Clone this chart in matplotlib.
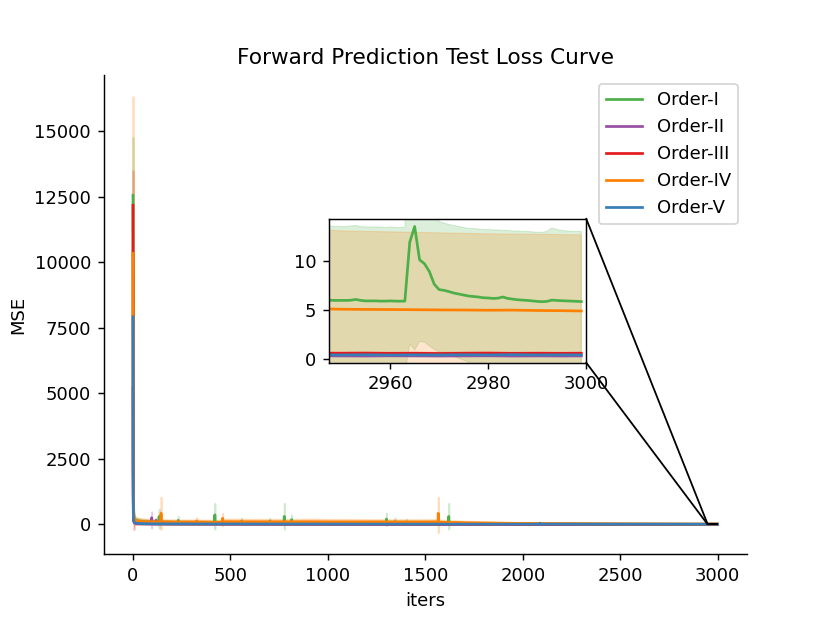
import matplotlib.pyplot as plt
from matplotlib.patches import Rectangle, ConnectionPatch

# sparse tail iterations for the flat series
tail_it = [2950, 2955, 2960, 2965, 2970, 2975, 2980, 2985, 2990, 2995, 2999]
# dense tail iterations (Order-I has a spike in the zoomed window)
dense_it = list(range(2950, 3000))

# Order-I
g_it = [0, 1, 2, 3, 5, 8, 12, 20, 40, 70, 100, 133, 134, 135, 200, 231, 232, 233, 300, 419,
        420, 421, 500, 556, 557, 558, 650, 701, 702, 703, 775, 776, 777, 813, 814, 815, 900, 1100, 1290, 1299,
        1300, 1301, 1343, 1344, 1345, 1402, 1403, 1404, 1520, 1619, 1620, 1621, 1800, 2200, 2600, 2949] + dense_it
g_mean = [12560, 2600, 950, 450, 260, 190, 160, 135, 115, 100, 90, 85, 300, 85, 75, 70, 150, 70, 65, 62,
          360, 62, 60, 58, 120, 58, 56, 55, 120, 55, 54, 300, 54, 53, 180, 53, 50, 46, 44, 45,
          200, 48, 46, 100, 46, 44, 90, 44, 40, 36, 300, 36, 28, 18, 10, 5.95,
          5.95, 5.95, 5.97, 6.05, 5.95, 5.9, 5.9, 5.9, 5.88, 5.88, 5.9, 5.88, 5.87, 5.88, 11.9, 13.5,
          10.1, 9.7, 8.9, 7.6, 7.05, 6.98, 6.85, 6.7, 6.6, 6.5, 6.4, 6.35, 6.3, 6.22, 6.2, 6.15,
          6.18, 6.3, 6.15, 6.08, 6.02, 5.98, 5.95, 5.9, 5.85, 5.82, 5.85, 5.98, 5.95, 5.92, 5.9, 5.88,
          5.86, 5.83]
g_lo = [10300, 1500, 500, 200, 100, 70, 60, 50, 40, 30, 25, 20, -150, 20, 15, 12, 0, 12, 10, 8,
        -190, 8, 8, 6, 20, 6, 5, 5, 20, 5, 5, -190, 5, 5, 0, 5, 4, 3, 3, 3,
        -60, 3, 3, 0, 3, 3, 0, 3, 2, 2, -190, 2, 0, -2, -3, -1.5,
        -1.5, -1.5, -1.45, -1.4, -1.5, -1.5, -1.5, -1.5, -1.5, -1.5, -1.5, -1.5, -1.5, -1.5, 1.5, 0.9,
        1.75, 1.7, 1.3, 0.95, 0.7, 0.5, 0.35, 0.2, 0.05, -0.15, -0.35, -0.5, -0.6, -0.7, -0.75, -0.8,
        -0.8, -0.75, -0.85, -0.9, -0.95, -1.0, -1.05, -1.1, -1.1, -1.15, -1.1, -1.2, -1.2, -1.2, -1.2, -1.25,
        -1.25, -1.3]
g_hi = [14770, 3800, 1400, 700, 420, 310, 260, 220, 190, 170, 155, 150, 580, 150, 140, 130, 300, 130, 125, 120,
        800, 120, 115, 110, 230, 110, 108, 105, 230, 105, 104, 800, 104, 102, 360, 102, 100, 95, 130, 130,
        430, 130, 130, 250, 130, 125, 200, 120, 100, 80, 800, 80, 60, 40, 25, 13.5,
        13.5, 13.5, 13.55, 13.6, 13.5, 13.45, 13.45, 13.45, 13.45, 13.4, 13.45, 13.4, 13.4, 13.4, 22.3, 26.1,
        18.5, 17.8, 16.6, 14.6, 14.0, 13.85, 13.7, 13.6, 13.5, 13.4, 13.3, 13.3, 13.25, 13.2, 13.2, 13.15,
        13.15, 13.1, 13.1, 13.05, 13.05, 13.0, 13.0, 12.95, 12.9, 12.9, 13.0, 13.35, 13.2, 13.1, 13.05, 13.0,
        13.0, 13.0]

# Order-II
p_it = [0, 1, 2, 3, 5, 8, 12, 20, 40, 70, 95, 96, 97, 117, 118, 119, 200, 400, 800, 1200, 1800, 2400, 2949] + tail_it
p_mean = [5200, 900, 300, 140, 80, 55, 40, 30, 22, 18, 16, 250, 16, 15, 150, 15, 13, 11, 9, 7, 4, 2, 0.28,
          0.28, 0.27, 0.29, 0.28, 0.27, 0.28, 0.29, 0.27, 0.28, 0.27, 0.28]
p_lo = [4000, 500, 150, 60, 30, 20, 14, 10, 7, 5, 4, -150, 4, 4, -20, 4, 3, 2, 2, 1.5, 1, 0.5, 0.24,
        0.24, 0.23, 0.25, 0.24, 0.23, 0.24, 0.25, 0.23, 0.24, 0.23, 0.24]
p_hi = [6400, 1300, 450, 220, 130, 90, 66, 50, 37, 31, 28, 480, 28, 26, 230, 26, 23, 20, 16, 12, 7, 3.5, 0.32,
        0.32, 0.31, 0.33, 0.32, 0.31, 0.32, 0.33, 0.31, 0.32, 0.31, 0.32]

# Order-III
r_it = [0, 1, 2, 3, 5, 8, 12, 20, 40, 70, 100, 300, 600, 1000, 1500, 2000, 2500, 2949] + tail_it
r_mean = [12180, 1900, 600, 250, 120, 80, 60, 45, 35, 28, 24, 18, 14, 10, 7, 4, 2, 0.55,
          0.55, 0.56, 0.54, 0.55, 0.53, 0.55, 0.56, 0.54, 0.55, 0.54, 0.55]
r_lo = [10900, 1000, 200, 0, -210, -20, 0, 5, 5, 5, 5, 5, 4, 3, 2, 1, 0.5, 0.45,
        0.45, 0.46, 0.44, 0.45, 0.43, 0.45, 0.46, 0.44, 0.45, 0.44, 0.45]
r_hi = [13500, 2800, 1000, 500, 450, 180, 120, 85, 65, 51, 43, 31, 24, 17, 12, 7, 3.5, 0.68,
        0.68, 0.7, 0.66, 0.68, 0.65, 0.68, 0.7, 0.66, 0.68, 0.66, 0.68]

# Order-IV
o_it = [0, 1, 2, 3, 5, 8, 12, 20, 40, 70, 100, 143, 144, 145, 200, 326, 327, 328, 400, 459,
        460, 461, 600, 800, 933, 1000, 1200, 1400, 1565, 1566, 1567, 1700, 1900, 2100, 2400, 2700] + tail_it
o_mean = [10350, 2200, 800, 380, 230, 170, 150, 130, 110, 100, 95, 90, 420, 95, 88, 85, 130, 85, 80, 80,
          230, 100, 95, 95, 95, 90, 90, 85, 90, 420, 80, 60, 40, 25, 14, 8,
          5.05, 5.03, 5.02, 5.0, 4.98, 4.97, 4.95, 4.96, 4.92, 4.9, 4.87]
o_lo = [4400, 900, 300, 100, 50, 30, 20, 15, 10, 5, 0, -10, -200, -10, -10, -10, 0, -10, -10, -10,
        -60, 0, 0, 0, 0, 0, 0, 0, 0, -320, 0, -5, -8, -8, -6, -4,
        -3.0, -3.0, -3.0, -3.0, -3.0, -3.0, -3.0, -3.0, -3.0, -3.0, -3.0]
o_hi = [16330, 3600, 1400, 700, 430, 320, 280, 250, 220, 200, 190, 185, 1040, 190, 175, 170, 260, 170, 160, 160,
        420, 200, 195, 190, 200, 190, 185, 180, 185, 1040, 170, 120, 80, 55, 32, 20,
        13.05, 13.0, 12.95, 12.9, 12.85, 12.8, 12.75, 12.72, 12.7, 12.67, 12.64]

# Order-V
b_it = [0, 1, 2, 3, 5, 8, 12, 20, 40, 70, 100, 300, 600, 1000, 1500, 2087, 2088, 2089, 2500, 2949] + tail_it
b_mean = [7920, 1200, 400, 180, 100, 70, 50, 38, 28, 22, 19, 15, 12, 9, 6, 3.5, 40, 3.5, 1.5, 0.38,
          0.38, 0.4, 0.37, 0.39, 0.38, 0.4, 0.38, 0.41, 0.38, 0.39, 0.38]
b_lo = [6300, 700, 200, 80, 40, 30, 20, 15, 10, 8, 7, 5, 4, 3, 2, 1, 10, 1, 0.5, 0.32,
        0.32, 0.34, 0.31, 0.33, 0.32, 0.34, 0.32, 0.35, 0.32, 0.33, 0.32]
b_hi = [9500, 1700, 600, 280, 160, 110, 80, 60, 46, 36, 31, 25, 20, 15, 10, 6, 70, 6, 2.5, 0.44,
        0.44, 0.46, 0.43, 0.45, 0.44, 0.46, 0.44, 0.47, 0.44, 0.45, 0.44]

labels = ['Order-I', 'Order-II', 'Order-III', 'Order-IV', 'Order-V']
colors = ['#4daf4a', '#984ea3', '#e41a1c', '#ff7f00', '#377eb8']
series = [(g_it, g_mean, g_lo, g_hi), (p_it, p_mean, p_lo, p_hi), (r_it, r_mean, r_lo, r_hi),
          (o_it, o_mean, o_lo, o_hi), (b_it, b_mean, b_lo, b_hi)]

fig, ax = plt.subplots(figsize=(6.3847, 4.7924), dpi=130)
axins = ax.inset_axes([0.35, 0.4, 0.4, 0.3])

for (it, m, lo, hi), lab, c in zip(series, labels, colors):
    ax.plot(it, m, color=c, lw=1.5, label=lab)
    ax.fill_between(it, lo, hi, color=c, alpha=0.25, lw=1.0)
    axins.plot(it, m, color=c, lw=1.5)
    axins.fill_between(it, lo, hi, color=c, alpha=0.2, lw=0.6)

ax.set_title("Forward Prediction Test Loss Curve")
ax.set_xlabel("iters")
ax.set_ylabel("MSE")
ax.spines['top'].set_visible(False)
ax.spines['right'].set_visible(False)
ax.legend(loc='upper right')

x0, x1, y0, y1 = 2947.5, 3000, -0.4, 14.3
axins.set_xlim(x0, x1)
axins.set_ylim(y0, y1)
axins.set_xticks([2960, 2980, 3000])
axins.set_yticks([0, 5, 10])

# zoom box and connectors
ax.add_patch(Rectangle((x0, y0), x1 - x0, y1 - y0, fill=False, ec='black', lw=1.2, zorder=5))
for ya, yb in [(1, y1), (0, y0)]:
    con = ConnectionPatch(xyA=(1, ya), coordsA=axins.transAxes, xyB=(x0, yb), coordsB=ax.transData,
                          color='black', lw=1.0)
    fig.add_artist(con)

plt.savefig('out.png')
